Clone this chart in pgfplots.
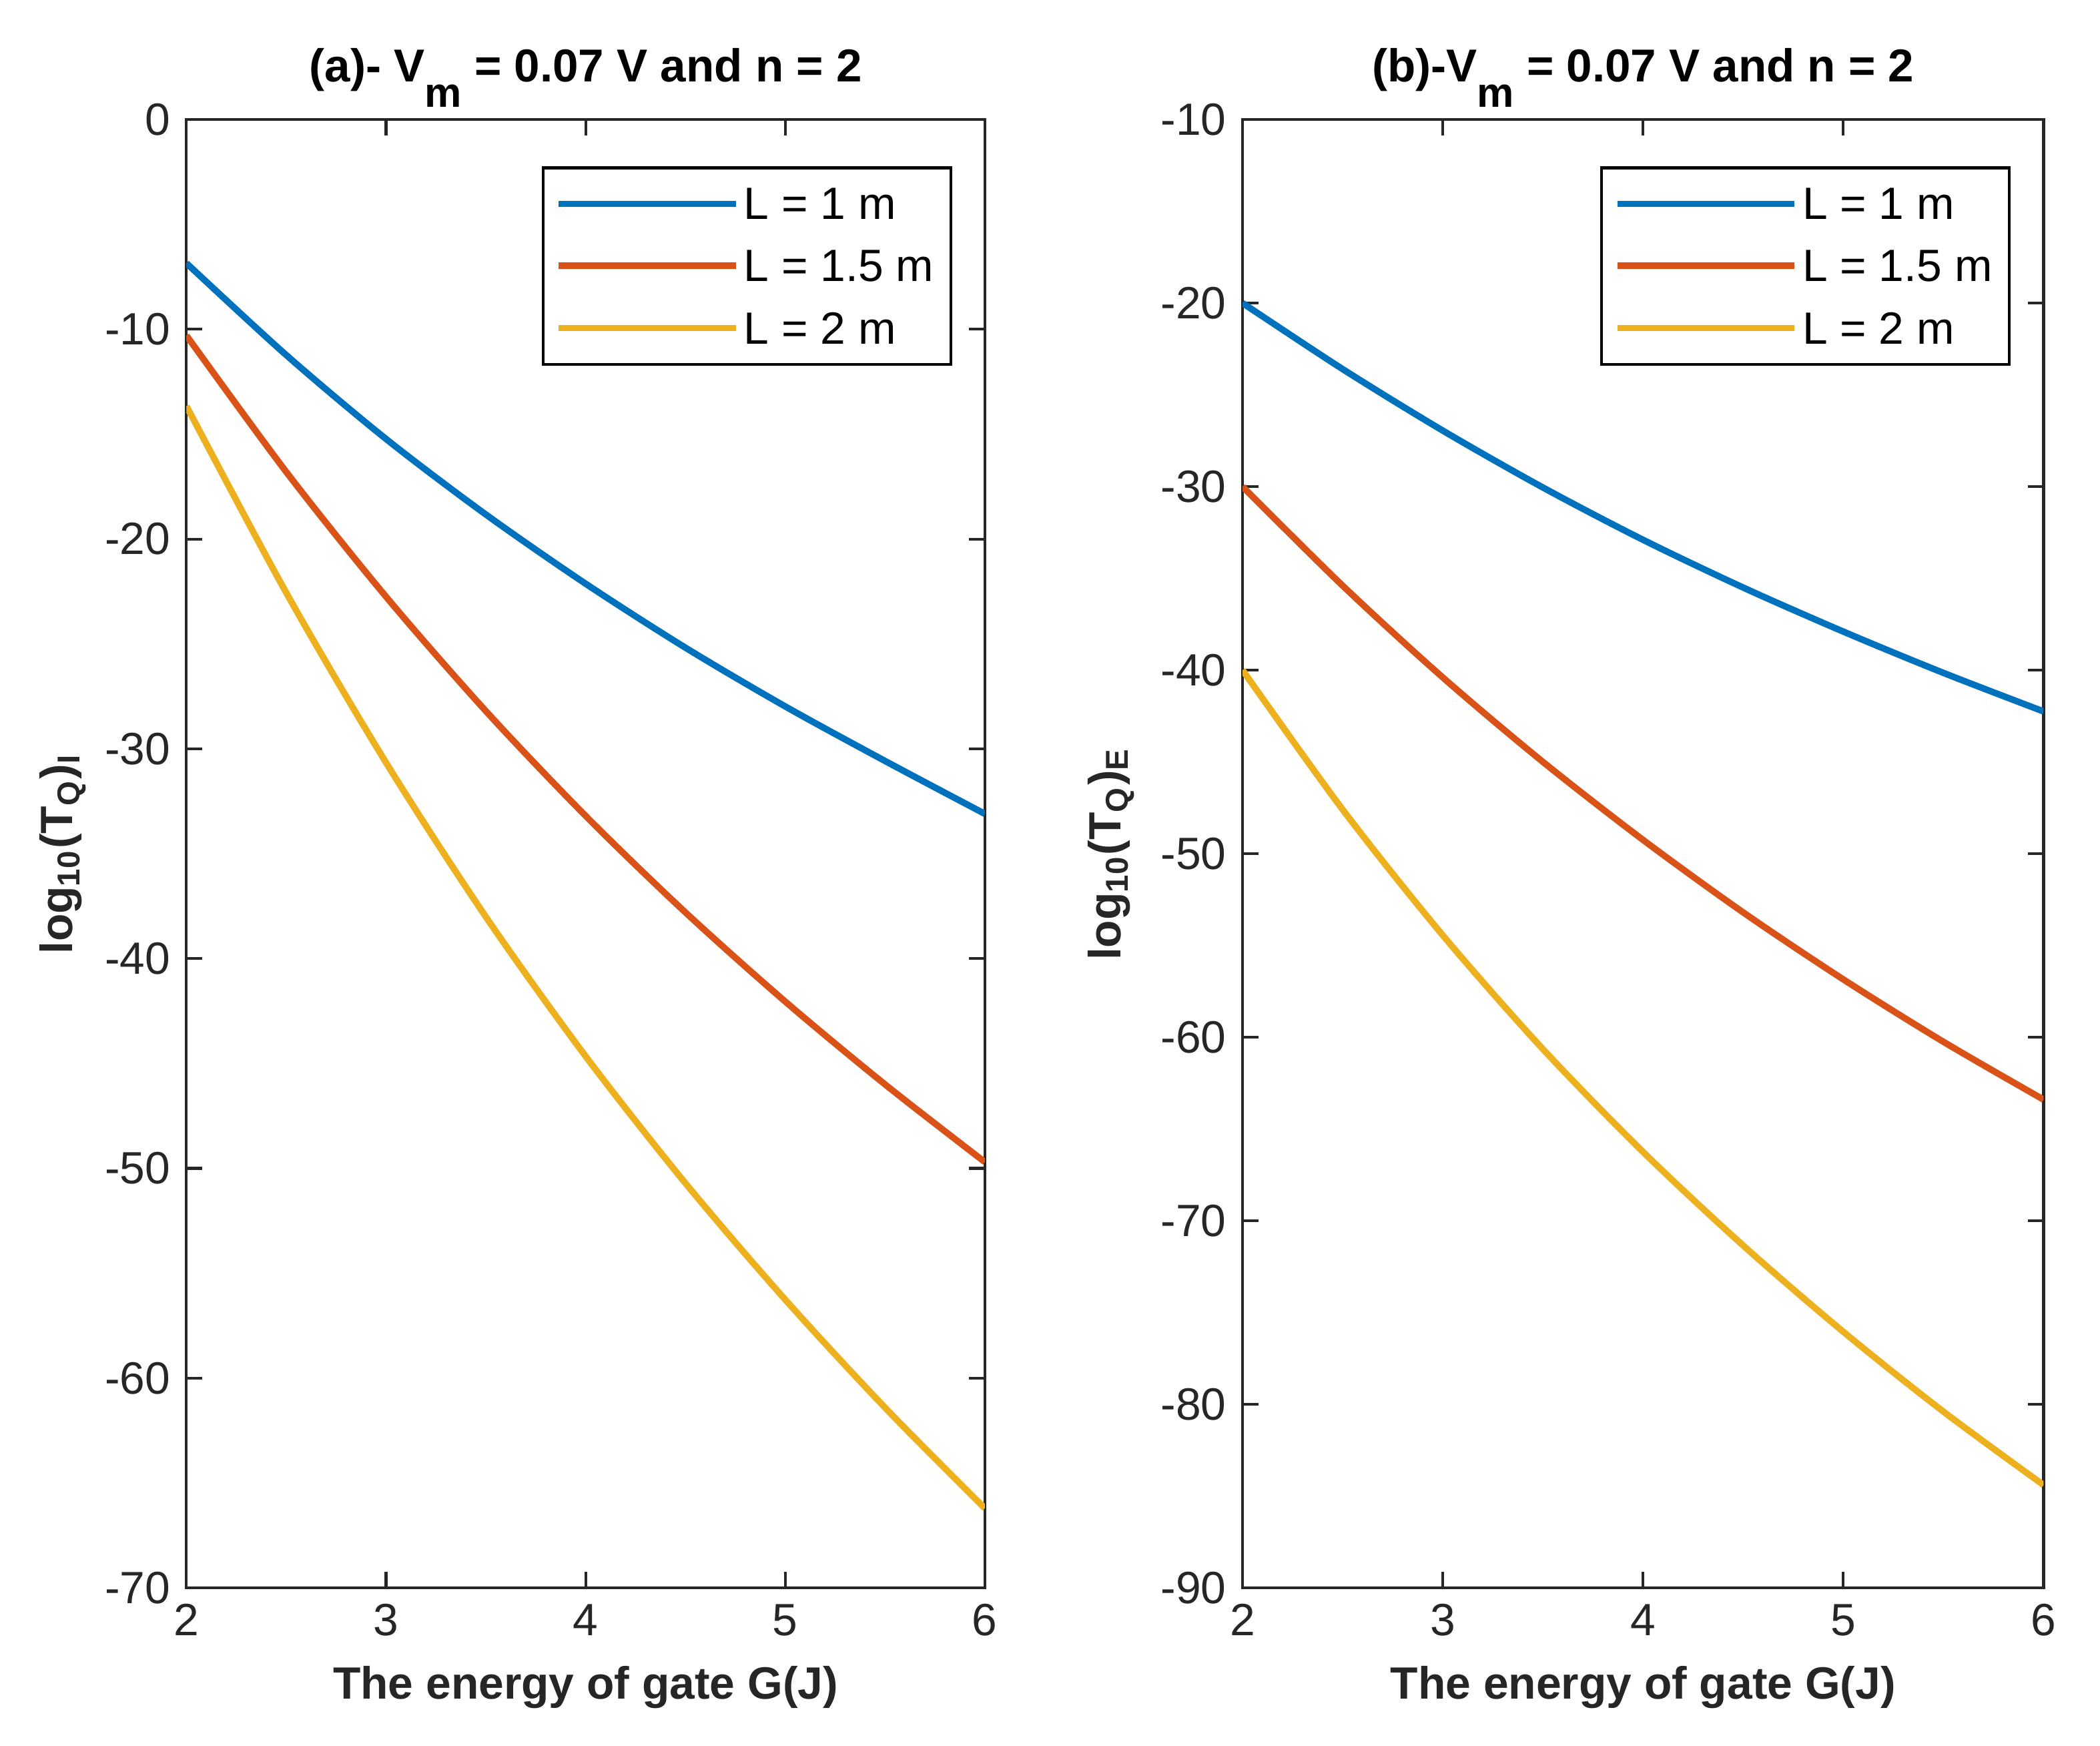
\documentclass[border=0pt]{standalone}
\usepackage{fontspec}
\setmainfont{Liberation Sans}
\usepackage{pgfplots}
\pgfplotsset{compat=1.18}

\definecolor{mblue}{rgb}{0,0.447,0.741}
\definecolor{morange}{rgb}{0.85,0.325,0.098}
\definecolor{myellow}{rgb}{0.929,0.694,0.125}
\definecolor{maxis}{rgb}{0.15,0.15,0.15}

% MATLAB-like subscript: nearly full size, lowered a lot
\newcommand{\msub}[1]{\raisebox{-0.55em}{\fontsize{9}{10}\selectfont #1}}

\pgfplotsset{
  matlab/.style={
    scale only axis,
    height=11.18cm,
    xmin=2, xmax=6,
    xtick={2,3,4,5,6},
    axis line style={maxis, line width=0.6pt},
    tick style={maxis, line width=0.6pt},
    major tick length=0.12cm,
    tick align=inside,
    ticklabel style={font=\fontsize{9.8}{11}\selectfont, text=maxis},
    /pgf/number format/assume math mode=true,
    label style={font=\bfseries\fontsize{9.8}{11}\selectfont, text=maxis},
    xlabel style={at={(axis description cs:0.5,-0.068)}, anchor=center},
    title style={font=\bfseries\fontsize{10}{12}\selectfont, text=black,
      at={(axis description cs:0.5,1.0067)}, anchor=base},
    every axis plot/.append style={line width=1.4pt, smooth},
    legend image code/.code={\draw[#1] (0cm,0cm) -- (1.35cm,0cm);},
    legend cell align=left,
    legend style={font=\fontsize{9.8}{11}\selectfont, draw=black, line width=0.6pt,
      anchor=north east, inner xsep=0.095cm, inner ysep=0.12cm, row sep=0.165cm,
      nodes={inner sep=1pt, text depth=0pt}},
  }
}

\begin{document}
\begin{tikzpicture}

% (a): T_Q for I
\begin{axis}[matlab,
    width=6.08cm,
    at={(0cm,0cm)}, anchor=south west,
    ymin=-70, ymax=0,
    ytick={-70,-60,-50,-40,-30,-20,-10,0},
    title={(a)- V\msub{m} = 0.07 V and n = 2},
    xlabel={The energy of gate G(J)},
    ylabel={log\textsubscript{10}(T\textsubscript{Q})\textsubscript{I}},
    ylabel style={at={(axis description cs:-0.155,0.5)}, anchor=center},
    legend style={at={(axis description cs:0.959,0.968)}},
]
\addplot[color=mblue] coordinates {
  (2,-6.85) (2.5,-11.23) (3,-15.23) (3.5,-18.83) (4,-22.13)
  (4.5,-25.18) (5,-27.98) (5.5,-30.58) (6,-33.1)
};
\addlegendentry{L = 1 m}
\addplot[color=morange] coordinates {
  (2,-10.3) (2.5,-16.8) (3,-22.75) (3.5,-28.2) (4,-33.2)
  (4.5,-37.8) (5,-42.05) (5.5,-46.0) (6,-49.7)
};
\addlegendentry{L = 1.5 m}
\addplot[color=myellow] coordinates {
  (2,-13.66) (2.5,-22.56) (3,-30.66) (3.5,-38.01) (4,-44.66)
  (4.5,-50.71) (5,-56.26) (5.5,-61.41) (6,-66.21)
};
\addlegendentry{L = 2 m}
\end{axis}

% (b): T_Q for E
\begin{axis}[matlab,
    width=6.10cm,
    at={(8.043cm,0cm)}, anchor=south west,
    ymin=-90, ymax=-10,
    ytick={-90,-80,-70,-60,-50,-40,-30,-20,-10},
    title={(b)-V\msub{m} = 0.07 V and n = 2},
    xlabel={The energy of gate G(J)},
    ylabel={log\textsubscript{10}(T\textsubscript{Q})\textsubscript{E}},
    ylabel style={at={(axis description cs:-0.164,0.5)}, anchor=center},
    legend style={at={(axis description cs:0.959,0.968)}},
]
\addplot[color=mblue] coordinates {
  (2,-20) (2.5,-23.6) (3,-26.95) (3.5,-30.05) (4,-32.9)
  (4.5,-35.5) (5,-37.9) (5.5,-40.15) (6,-42.25)
};
\addlegendentry{L = 1 m}
\addplot[color=morange] coordinates {
  (2,-30) (2.5,-35.4) (3,-40.4) (3.5,-45.0) (4,-49.25)
  (4.5,-53.2) (5,-56.85) (5.5,-60.25) (6,-63.4)
};
\addlegendentry{L = 1.5 m}
\addplot[color=myellow] coordinates {
  (2,-40) (2.5,-47.6) (3,-54.45) (3.5,-60.65) (4,-66.25)
  (4.5,-71.35) (5,-76.05) (5.5,-80.4) (6,-84.4)
};
\addlegendentry{L = 2 m}
\end{axis}

\pgfresetboundingbox
\useasboundingbox (-1.42cm,-1.2cm) rectangle (14.573cm,12.09cm);
\end{tikzpicture}
\end{document}
